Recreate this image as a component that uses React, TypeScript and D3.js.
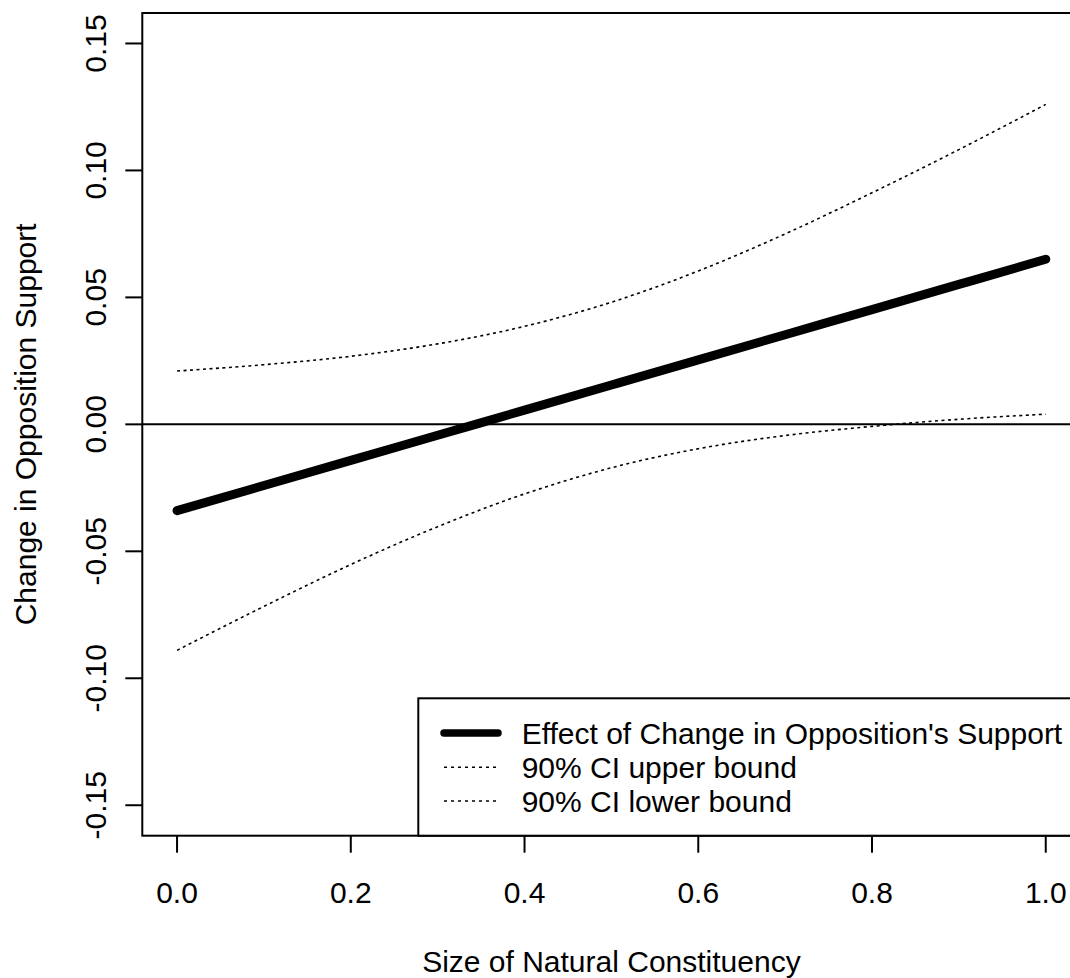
import React from "react";
import * as d3 from "d3";

const xValues = [0, 0.1, 0.2, 0.3, 0.4, 0.5, 0.6, 0.7, 0.8, 0.9, 1.0];
const effect = [-0.034, -0.0241, -0.0142, -0.0043, 0.0056, 0.0155, 0.0254, 0.0353, 0.0452, 0.0551, 0.065];
const upper = [0.021, 0.0235, 0.0268, 0.0317, 0.0386, 0.0481, 0.0604, 0.075, 0.0912, 0.1082, 0.126];
const lower = [-0.089, -0.0717, -0.0552, -0.0403, -0.0274, -0.0171, -0.0096, -0.0044, -0.0008, 0.002, 0.004];
const xTicks = [0, 0.2, 0.4, 0.6, 0.8, 1.0];
const yTicks = [-0.15, -0.1, -0.05, 0, 0.05, 0.1, 0.15];
const legendLabels = [
  "Effect of Change in Opposition's Support",
  "90% CI upper bound",
  "90% CI lower bound",
];
const xTitle = "Size of Natural Constituency";
const yTitle = "Change in Opposition Support";

const W = 1070;
const H = 978;
const FONT = "'Liberation Sans', Arial, Helvetica, sans-serif";
const FS = 30;

export default function App() {
  const x = d3.scaleLinear().domain([-0.04, 1.04]).range([142.3, 1080.5]);
  const y = d3.scaleLinear().domain([-0.162, 0.162]).range([835.7, 13]);

  const mk = (vals: number[]) =>
    d3
      .line<number>()
      .x((_, i) => x(xValues[i]))
      .y((d) => y(d))
      .curve(d3.curveMonotoneX)(vals) || "";

  const left = x(-0.04);
  const right = x(1.04);
  const top = y(0.162);
  const bottom = y(-0.162);

  const legLeft = 418.3;
  const legTop = 698.3;
  const rowY = [733, 767.3, 801];

  return (
    <div style={{ position: "absolute", left: 0, top: 0 }}>
      <svg width={W} height={H} style={{ display: "block", background: "#fff" }}>
        <rect x={0} y={0} width={W} height={H} fill="#fff" />
        <defs>
          <clipPath id="plotClip">
            <rect x={left} y={top} width={right - left} height={bottom - top} />
          </clipPath>
        </defs>
        <line x1={left} x2={right} y1={y(0)} y2={y(0)} stroke="#000" strokeWidth={2} />
        <g clipPath="url(#plotClip)">
          <path d={mk(upper)} fill="none" stroke="#000" strokeWidth={1.6} strokeDasharray="3,3.5" />
          <path d={mk(lower)} fill="none" stroke="#000" strokeWidth={1.6} strokeDasharray="3,3.5" />
          <path d={mk(effect)} fill="none" stroke="#000" strokeWidth={9} strokeLinecap="round" />
        </g>
        <rect x={left} y={top} width={right - left} height={bottom - top} fill="none" stroke="#000" strokeWidth={2} />
        {xTicks.map((t) => (
          <g key={"x" + t}>
            <line x1={x(t)} x2={x(t)} y1={bottom} y2={bottom + 17} stroke="#000" strokeWidth={2} />
            <text x={x(t)} y={902.5} textAnchor="middle" fontFamily={FONT} fontSize={FS}>
              {t.toFixed(1)}
            </text>
          </g>
        ))}
        {yTicks.map((t) => (
          <g key={"y" + t}>
            <line x1={left - 17} x2={left} y1={y(t)} y2={y(t)} stroke="#000" strokeWidth={2} />
            <text
              transform={`translate(106,${y(t)}) rotate(-90)`}
              textAnchor="middle"
              fontFamily={FONT}
              fontSize={FS}
            >
              {t.toFixed(2)}
            </text>
          </g>
        ))}
        <text x={(left + right) / 2} y={971.5} textAnchor="middle" fontFamily={FONT} fontSize={FS}>
          {xTitle}
        </text>
        <text
          transform={`translate(36,${(top + bottom) / 2}) rotate(-90)`}
          textAnchor="middle"
          fontFamily={FONT}
          fontSize={FS}
        >
          {yTitle}
        </text>
        <rect x={legLeft} y={legTop} width={right - legLeft} height={bottom - legTop} fill="#fff" stroke="#000" strokeWidth={2} />
        <line x1={444} x2={498} y1={rowY[0]} y2={rowY[0]} stroke="#000" strokeWidth={7.5} strokeLinecap="round" />
        <line x1={444} x2={496} y1={rowY[1]} y2={rowY[1]} stroke="#000" strokeWidth={1.6} strokeDasharray="3,4" />
        <line x1={444} x2={496} y1={rowY[2]} y2={rowY[2]} stroke="#000" strokeWidth={1.6} strokeDasharray="3,4" />
        {legendLabels.map((l, i) => (
          <text key={l} x={521.7} y={rowY[i] + 10.7} fontFamily={FONT} fontSize={FS}>
            {l}
          </text>
        ))}
      </svg>
    </div>
  );
}
